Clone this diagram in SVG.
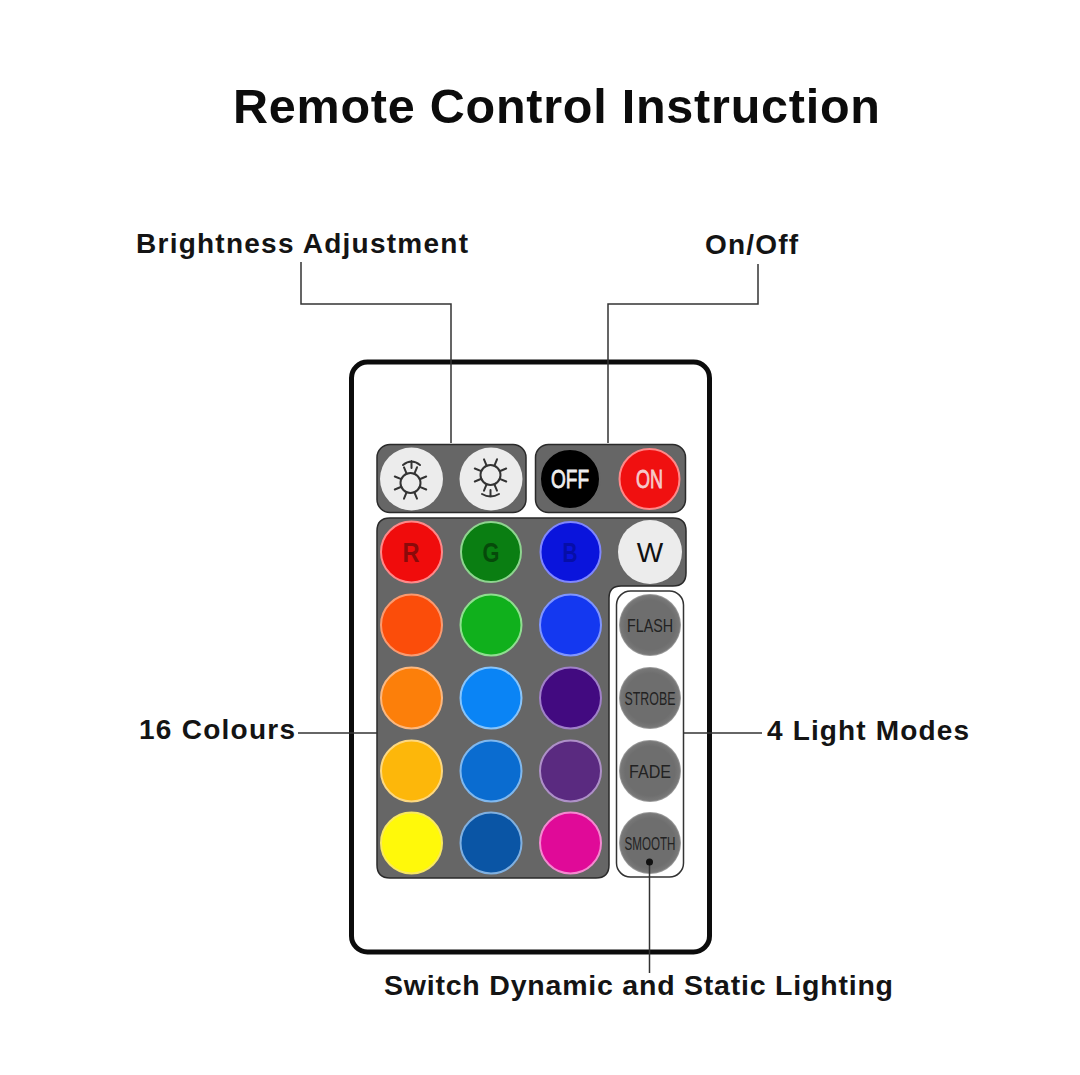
<svg xmlns="http://www.w3.org/2000/svg" width="1080" height="1075" viewBox="0 0 1080 1075">
<style>
.label{font-family:"Liberation Sans",Arial,sans-serif;font-weight:700;fill:#141414}
.cap{font-family:"Liberation Sans",Arial,sans-serif;text-anchor:middle}
.panel{fill:#666;stroke:#2a2a2a;stroke-width:1.5}
.btn{stroke-width:2}
.mode{fill:url(#modeFill)}
.modetxt{font-size:19px;fill:#222}
.lead{fill:none;stroke:#333;stroke-width:1.5}
.sun{fill:none;stroke:#333;stroke-width:2;stroke-linecap:round}
</style>
<defs>
<radialGradient id="modeFill">
<stop offset="0.8" stop-color="#6e6e6e"/>
<stop offset="0.95" stop-color="#787878"/>
<stop offset="1" stop-color="#a8a8a8"/>
</radialGradient>
<g id="rays" class="sun">
<circle r="10"/>
<g transform="rotate(22.500)">
<path d="M0-10V-17M7-7 12-12M10 0H17M7 7 12 12M0 10V17M-7 7-12 12M-10 0H-17M-7-7-12-12"/>
</g>
</g>
</defs>
<rect width="1080" height="1075" fill="#fff"/>
<text class="label" x="233" y="123" font-size="48.500" textLength="647" lengthAdjust="spacing" style="fill:#0c0c0c">Remote Control Instruction</text>

<g id="remote"><rect x="351.500" y="362" width="358" height="590" rx="16" fill="#fff" stroke="#0c0c0c" stroke-width="5"/></g>

<g id="brightness-panel">
<rect class="panel" x="377" y="444.500" width="149" height="68" rx="13"/>
<circle cx="411.500" cy="479" r="31.500" fill="#ececec"/>
<circle cx="491" cy="479" r="31.500" fill="#ececec"/>
<use href="#rays" x="410.500" y="483"/>
<use href="#rays" x="490.500" y="475"/>
<path class="sun" d="M403 465Q411.500 458 420 465M411.500 461V468"/>
<path class="sun" d="M482 494Q490.500 499 499 494M490.500 490V496"/>
</g>

<g id="power-panel">
<rect class="panel" x="535.500" y="444.500" width="150" height="68" rx="13"/>
<circle cx="570" cy="479" r="30" fill="#000" stroke="#666" stroke-width="2"/>
<text class="cap" x="570" y="488" font-size="26" fill="#eee" stroke="#eee" stroke-width="0.800" textLength="38" lengthAdjust="spacingAndGlyphs">OFF</text>
<circle class="btn" cx="649.500" cy="479" r="30" fill="#f01010" stroke="#f88"/>
<text class="cap" x="649.500" y="488" font-size="25" fill="#f6caca" stroke="#f6caca" stroke-width="0.800" textLength="27" lengthAdjust="spacingAndGlyphs">ON</text>
</g>

<g id="colour-panel">
<path class="panel" d="M390 518H673Q686 518 686 531V573Q686 586 673 586H621Q609 586 609 598V865Q609 878 596 878H390Q377 878 377 865V531Q377 518 390 518Z"/>
<g id="row-rgb">
<circle class="btn" cx="411.500" cy="552" r="30.500" fill="#f00c0c" stroke="#f88"/>
<circle class="btn" cx="491" cy="552" r="30" fill="#0a7e12" stroke="#8ed58f"/>
<circle class="btn" cx="570.500" cy="552" r="30" fill="#0a14dc" stroke="#7f86ff"/>
<circle cx="650" cy="552" r="32" fill="#ececec"/>
<text class="cap" x="411" y="562" font-size="27" font-weight="700" fill="#8a0a0a" textLength="17" lengthAdjust="spacingAndGlyphs">R</text>
<text class="cap" x="491" y="562" font-size="27" font-weight="700" fill="#064a0a" textLength="17" lengthAdjust="spacingAndGlyphs">G</text>
<text class="cap" x="570" y="562" font-size="27" font-weight="700" fill="#060ea8" textLength="15" lengthAdjust="spacingAndGlyphs">B</text>
<text class="cap" x="650" y="562" font-size="28" fill="#111">W</text>
</g>
<g id="row-2">
<circle class="btn" cx="411.500" cy="625" r="30.500" fill="#fb4d0a" stroke="#fa9a70"/>
<circle class="btn" cx="491" cy="625" r="30.500" fill="#10b01c" stroke="#8fdf90"/>
<circle class="btn" cx="570.500" cy="625" r="30.500" fill="#1438f0" stroke="#7f95ff"/>
</g>
<g id="row-3">
<circle class="btn" cx="411.500" cy="698" r="30.500" fill="#fc7f0a" stroke="#fcb880"/>
<circle class="btn" cx="491" cy="698" r="30.500" fill="#0a84f5" stroke="#88c4fa"/>
<circle class="btn" cx="570.500" cy="698" r="30.500" fill="#420a80" stroke="#a080c8"/>
</g>
<g id="row-4">
<circle class="btn" cx="411.500" cy="771" r="30.500" fill="#fdb70a" stroke="#fdd880"/>
<circle class="btn" cx="491" cy="771" r="30.500" fill="#0a6cd0" stroke="#80b8ee"/>
<circle class="btn" cx="570.500" cy="771" r="30.500" fill="#5a2a80" stroke="#ae90c8"/>
</g>
<g id="row-5">
<circle class="btn" cx="411.500" cy="843" r="30.500" fill="#fff90a" stroke="#f8e860"/>
<circle class="btn" cx="491" cy="843" r="30.500" fill="#0a55a5" stroke="#80b0e0"/>
<circle class="btn" cx="570.500" cy="843" r="30.500" fill="#e00a98" stroke="#f488d0"/>
</g>
</g>

<g id="modes-panel">
<rect x="616.500" y="591" width="67" height="286" rx="14" fill="#fff" stroke="#333" stroke-width="1.500"/>
<circle class="mode" cx="650" cy="625" r="31"/>
<circle class="mode" cx="650" cy="698" r="31"/>
<circle class="mode" cx="650" cy="771" r="31"/>
<circle class="mode" cx="650" cy="843" r="31"/>
<text class="cap modetxt" x="650" y="632" textLength="46" lengthAdjust="spacingAndGlyphs">FLASH</text>
<text class="cap modetxt" x="650" y="705" textLength="51" lengthAdjust="spacingAndGlyphs">STROBE</text>
<text class="cap modetxt" x="650" y="778" textLength="42" lengthAdjust="spacingAndGlyphs">FADE</text>
<text class="cap modetxt" x="650" y="850" textLength="51" lengthAdjust="spacingAndGlyphs">SMOOTH</text>
</g>

<g id="connectors" class="lead">
<path d="M301 262V304H451V443"/>
<path d="M758 264V304H608V443"/>
<path d="M298 733H377"/>
<path d="M683 733H762"/>
<path d="M649.500 862V973"/>
<circle cx="649.500" cy="862" r="3.500" fill="#111" stroke="none"/>
</g>

<g id="labels">
<text class="label" x="136" y="253" font-size="28" textLength="332" lengthAdjust="spacing">Brightness Adjustment</text>
<text class="label" x="705" y="254" font-size="28" textLength="93" lengthAdjust="spacing">On/Off</text>
<text class="label" x="139" y="739" font-size="28" textLength="156" lengthAdjust="spacing">16 Colours</text>
<text class="label" x="767" y="740" font-size="28" textLength="202" lengthAdjust="spacing">4 Light Modes</text>
<text class="label" x="384" y="995" font-size="28.500" textLength="509" lengthAdjust="spacing">Switch Dynamic and Static Lighting</text>
</g>
</svg>
